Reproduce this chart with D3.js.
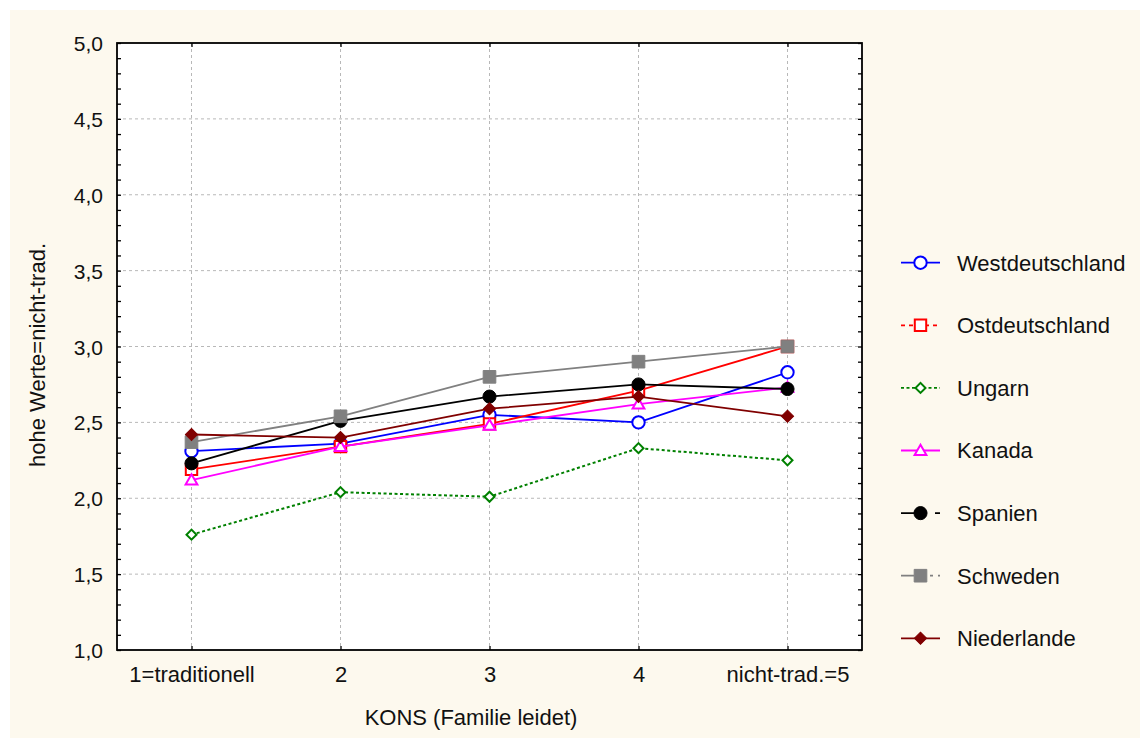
<!DOCTYPE html>
<html><head><meta charset="utf-8">
<script src="https://cdn.jsdelivr.net/npm/d3@7"></script>
<style>body{margin:0;background:#fff}svg{display:block}text{font-family:"Liberation Sans",Arial,sans-serif;fill:#111}</style>
</head><body>
<svg id="c" width="1140" height="738"></svg>
<script>
const categories = ["1=traditionell","2","3","4","nicht-trad.=5"];
const yTicks = [1.0,1.5,2.0,2.5,3.0,3.5,4.0,4.5,5.0];
const seriesNames = ["Westdeutschland","Ostdeutschland","Ungarn","Kanada","Spanien","Schweden","Niederlande"];
const westdeutschland = [2.31,2.36,2.55,2.50,2.83];
const ostdeutschland  = [2.19,2.34,2.49,2.71,3.00];
const ungarn          = [1.76,2.04,2.01,2.33,2.25];
const kanada          = [2.12,2.34,2.48,2.62,2.73];
const spanien         = [2.23,2.51,2.67,2.75,2.72];
const schweden        = [2.37,2.54,2.80,2.90,3.00];
const niederlande     = [2.42,2.40,2.59,2.67,2.54];
const seriesValues = [westdeutschland,ostdeutschland,ungarn,kanada,spanien,schweden,niederlande];
const xTitle = "KONS (Familie leidet)";
const yTitle = "hohe Werte=nicht-trad.";

const styles = [
 {color:"#0000ff", sym:"circle", fill:"#fff", size:120, legDash:null},
 {color:"#ff0000", sym:"square", fill:"#fff", size:130, legDash:"4,4"},
 {color:"#008000", sym:"diamond", fill:"#fff", size:50, dash:"3,2.5", legDash:"3,2.5"},
 {color:"#ff00ff", sym:"triangle", fill:"#fff", size:60, legDash:null},
 {color:"#000000", sym:"circle", fill:"#000", size:135, legDash:"13,21,5,10"},
 {color:"#808080", sym:"square", fill:"#808080", size:160, legDash:"13,16,3,5,3"},
 {color:"#800000", sym:"diamond", fill:"#800000", size:74, legDash:null}
];

const svg = d3.select("#c");
svg.append("rect").attr("x",10).attr("y",10).attr("width",1130).attr("height",728).attr("fill","#fdf9ee");

const L=117,R=862,T=43,B=650;
const x = d3.scalePoint().domain(categories).range([L,R]).padding(0.5);
const y = d3.scaleLinear().domain([1,5]).range([B,T]);
const loc = d3.formatLocale({decimal:",",thousands:".",grouping:[3],currency:["","€"]});
const fmt = loc.format(".1f");

svg.append("rect").attr("x",L).attr("y",T).attr("width",R-L).attr("height",B-T).attr("fill","#fff");

// grid
const gGrid = svg.append("g");
gGrid.selectAll("line.h").data(yTicks.slice(1,-1)).join("line")
 .attr("x1",L).attr("x2",R).attr("y1",d=>y(d)).attr("y2",d=>y(d))
 .attr("stroke","#b8b8b8").attr("stroke-dasharray","3,3");
gGrid.selectAll("line.v").data(categories).join("line")
 .attr("y1",T).attr("y2",B).attr("x1",d=>x(d)).attr("x2",d=>x(d))
 .attr("stroke","#b8b8b8").attr("stroke-dasharray","3,3");

// minor ticks
const minor = d3.range(10,51).map(d=>d/10);
svg.append("g").attr("transform",`translate(${L},0)`)
 .call(d3.axisRight(y).tickValues(minor).tickSize(4).tickFormat(""))
 .call(g=>{g.select(".domain").remove();g.selectAll("line").attr("stroke","#000").attr("stroke-width",1.3);});
svg.append("g").attr("transform",`translate(${R},0)`)
 .call(d3.axisLeft(y).tickValues(minor).tickSize(4).tickFormat(""))
 .call(g=>{g.select(".domain").remove();g.selectAll("line").attr("stroke","#000").attr("stroke-width",1.3);});
svg.append("g").attr("transform",`translate(0,${T})`)
 .call(d3.axisBottom(x).tickSize(4).tickFormat(""))
 .call(g=>{g.select(".domain").remove();g.selectAll("line").attr("stroke","#000").attr("stroke-width",1.3);});
svg.append("g").attr("transform",`translate(0,${B})`)
 .call(d3.axisTop(x).tickSize(4).tickFormat(""))
 .call(g=>{g.select(".domain").remove();g.selectAll("line").attr("stroke","#000").attr("stroke-width",1.3);});

// y tick labels
svg.append("g").attr("transform",`translate(${L},0)`)
 .call(d3.axisLeft(y).tickValues(yTicks).tickSize(0).tickPadding(14).tickFormat(fmt))
 .call(g=>{g.select(".domain").remove();g.selectAll("text").attr("font-size",21).attr("font-family","Liberation Sans, Arial").attr("fill","#111").attr("dy","0.36em");});
// x tick labels
svg.append("g").attr("transform",`translate(0,${B})`)
 .call(d3.axisBottom(x).tickSize(0).tickPadding(16))
 .call(g=>{g.select(".domain").remove();g.selectAll("text").attr("font-size",22).attr("font-family","Liberation Sans, Arial").attr("fill","#111");});

// frame
svg.append("rect").attr("x",L).attr("y",T).attr("width",R-L).attr("height",B-T)
 .attr("fill","none").attr("stroke","#000").attr("stroke-width",1.8);

function symPath(s){
  const t = s.sym==="circle"?d3.symbolCircle:s.sym==="triangle"?d3.symbolTriangle:d3.symbolSquare;
  return d3.symbol().type(t).size(s.size)();
}
function placeSym(sel,s,cx,cy){
  sel.attr("d",symPath(s))
   .attr("transform",`translate(${cx},${cy})`+(s.sym==="diamond"?" rotate(45)":"")+(s.sym==="triangle"?" translate(0,1)":""))
   .attr("fill",s.fill).attr("stroke",s.color).attr("stroke-width",s.fill==="#fff"?2:1);
}

const line = d3.line().x((d,i)=>x(categories[i])).y(d=>y(d));
seriesValues.forEach((vals,k)=>{
  const s = styles[k];
  const g = svg.append("g");
  g.append("path").attr("d",line(vals)).attr("fill","none").attr("stroke",s.color)
   .attr("stroke-width",s.dash?2:1.8).attr("stroke-dasharray",s.dash||null);
  g.selectAll("path.m").data(vals).join("path").attr("class","m")
   .each(function(d,i){placeSym(d3.select(this),s,x(categories[i]),y(d));});
});

// legend
const lg = svg.append("g");
seriesNames.forEach((n,k)=>{
  const s = styles[k];
  const cy = 262.7 + k*62.6;
  lg.append("line").attr("x1",901).attr("x2",940).attr("y1",cy).attr("y2",cy)
    .attr("stroke",s.color).attr("stroke-width",1.8).attr("stroke-dasharray",s.legDash);
  placeSym(lg.append("path"),s,920.5,cy);
  lg.append("text").attr("x",957).attr("y",cy).attr("dy","0.36em").attr("font-size",22).text(n);
});

// axis titles
svg.append("text").attr("x",471).attr("y",725).attr("text-anchor","middle").attr("font-size",22).text(xTitle);
svg.append("text").attr("transform","translate(45,355) rotate(-90)").attr("text-anchor","middle").attr("font-size",22).text(yTitle);
</script>
</body></html>
